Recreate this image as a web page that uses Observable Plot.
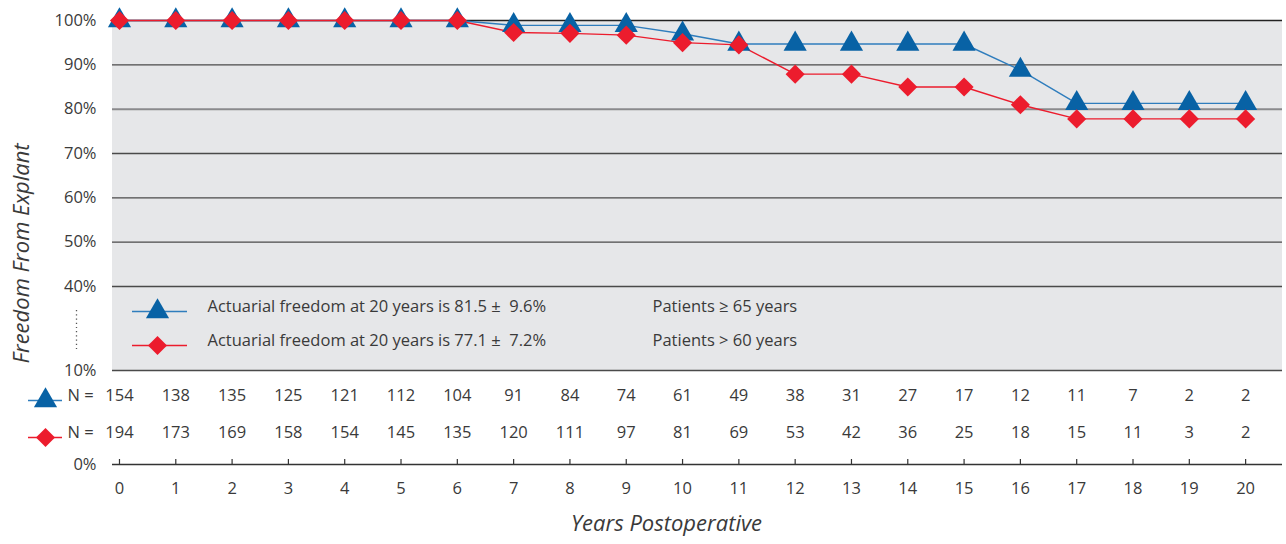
<!DOCTYPE html>
<html>
<head>
<meta charset="utf-8">
<script src="https://cdn.jsdelivr.net/npm/d3@7"></script>
<script src="https://cdn.jsdelivr.net/npm/@observablehq/plot@0.6"></script>
<style>
  html, body { margin: 0; padding: 0; background: #fff; }
  svg { font-family: "Open Sans", sans-serif; }
</style>
</head>
<body>
<div id="chart"></div>
<script>
const years = [0,1,2,3,4,5,6,7,8,9,10,11,12,13,14,15,16,17,18,19,20];
const freedom65 = [100,100,100,100,100,100,100,98.9,98.9,98.9,97.0,94.7,94.7,94.7,94.7,94.7,88.8,81.3,81.3,81.3,81.3];
const freedom60 = [100,100,100,100,100,100,100,97.3,97.1,96.7,95.0,94.5,87.9,87.9,85.0,85.0,81.0,77.8,77.8,77.8,77.8];
const n65 = [154,138,135,125,121,112,104,91,84,74,61,49,38,31,27,17,12,11,7,2,2];
const n60 = [194,173,169,158,154,145,135,120,111,97,81,69,53,42,36,25,18,15,11,3,2];
const yTicks = [0,10,40,50,60,70,80,90,100];
const gridValues = [90,70,60,50,40,10];
const legendText65 = "Actuarial freedom at 20 years is 81.5 \u00b1\u00a0 9.6%";
const legendText60 = "Actuarial freedom at 20 years is 77.1 \u00b1\u00a0 7.2%";
const group65 = "Patients \u2265 65 years";
const group60 = "Patients > 60 years";

const BLUE = "#0862a5", BLUE_LINE = "#2f7dbd", RED = "#ec1c2d";
const FONT = "'Open Sans', sans-serif";
const W = 1286, H = 544, mL = 112, mR = 4, mT = 20, mB = 80;
const FW = W - mL - mR;
const xDomain = [-0.124, 20.655];

const s65 = years.map((x, i) => ({x, y: freedom65[i], n: n65[i]}));
const s60 = years.map((x, i) => ({x, y: freedom60[i], n: n60[i]}));
const R = 8.6;
const TXT = "#3a3a3a";
const FS = 16.5;

const chart = Plot.plot({
  width: W, height: H,
  marginLeft: mL, marginRight: mR, marginTop: mT, marginBottom: mB,
  style: {fontFamily: FONT, color: TXT, background: "#fff"},
  x: {domain: xDomain, axis: null},
  y: {type: "linear", domain: [0, 10, 40, 100], range: [464, 370, 286, 20], axis: null},
  marks: [
    Plot.rect([0], {x1: xDomain[0], x2: xDomain[1], y1: 10, y2: 100, fill: "#e6e7e9"}),
    Plot.ruleY(gridValues, {stroke: "#4a4a4a", strokeWidth: 1.3}),
    Plot.ruleY([80], {stroke: "#8a8a8c", strokeWidth: 2}),
    Plot.ruleY([100], {stroke: "#222", strokeWidth: 1.3}),
    Plot.ruleY([0], {stroke: "#333", strokeWidth: 1.5}),
    Plot.tickX(years, {x: d => d, insetTop: (H - mT - mB) - 5, stroke: "#333", strokeWidth: 1.2}),
    Plot.axisY({ticks: yTicks, tickSize: 0, tickPadding: 16, tickFormat: d => d + "%", fontSize: FS, fill: TXT, label: null}),
    Plot.axisX({ticks: years, tickSize: 0, tickPadding: 18, fontSize: FS, fill: TXT, label: null}),
    Plot.ruleX([xDomain[0]], {x: d => d, y1: 31.4, y2: 16.4, dx: -36, stroke: "#555", strokeDasharray: "1.2,3", strokeWidth: 1.3}),
    // series
    Plot.line(s65, {x: "x", y: "y", stroke: BLUE_LINE, strokeWidth: 1.4}),
    Plot.line(s60, {x: "x", y: "y", stroke: RED, strokeWidth: 1.4}),
    Plot.dot(s65, {x: "x", y: "y", symbol: "triangle", r: R, fill: BLUE}),
    Plot.dot(s60, {x: "x", y: "y", symbol: "diamond2", r: R, fill: RED}),
    // inner legend
    Plot.tickY([0], {y: d => d, dy: -153, insetLeft: 20, insetRight: FW - 75, stroke: BLUE_LINE, strokeWidth: 1.4}),
    Plot.tickY([0], {y: d => d, dy: -119, insetLeft: 20, insetRight: FW - 75, stroke: RED, strokeWidth: 1.4}),
    Plot.dot([0], {frameAnchor: "bottom-left", dx: 45, dy: -153, symbol: "triangle", r: R, fill: BLUE}),
    Plot.dot([0], {frameAnchor: "bottom-left", dx: 45, dy: -119, symbol: "diamond2", r: R, fill: RED}),
    Plot.text([legendText65], {text: d => d, frameAnchor: "bottom-left", dx: 95, dy: -153, textAnchor: "start", fontSize: FS, fill: TXT}),
    Plot.text([legendText60], {text: d => d, frameAnchor: "bottom-left", dx: 95, dy: -119, textAnchor: "start", fontSize: FS, fill: TXT}),
    Plot.text([group65], {text: d => d, frameAnchor: "bottom-left", dx: 540, dy: -153, textAnchor: "start", fontSize: FS, fill: TXT}),
    Plot.text([group60], {text: d => d, frameAnchor: "bottom-left", dx: 540, dy: -119, textAnchor: "start", fontSize: FS, fill: TXT}),
    // N rows
    Plot.text(s65, {x: "x", text: "n", frameAnchor: "bottom", dy: -64, fontSize: FS, fill: TXT}),
    Plot.text(s60, {x: "x", text: "n", frameAnchor: "bottom", dy: -27, fontSize: FS, fill: TXT}),
    Plot.text(["N ="], {text: d => d, frameAnchor: "bottom-left", dx: -32, dy: -64, textAnchor: "middle", fontSize: FS, fill: TXT}),
    Plot.text(["N ="], {text: d => d, frameAnchor: "bottom-left", dx: -32, dy: -27, textAnchor: "middle", fontSize: FS, fill: TXT}),
    Plot.tickY([0], {y: d => d, dy: -64, insetLeft: -84, insetRight: FW + 50, stroke: BLUE_LINE, strokeWidth: 1.4}),
    Plot.tickY([0], {y: d => d, dy: -27, insetLeft: -84, insetRight: FW + 50, stroke: RED, strokeWidth: 1.4}),
    Plot.dot([0], {frameAnchor: "bottom-left", dx: -67, dy: -64, symbol: "triangle", r: R, fill: BLUE}),
    Plot.dot([0], {frameAnchor: "bottom-left", dx: -67, dy: -27, symbol: "diamond2", r: R, fill: RED}),
    // axis titles
    Plot.text(["Years Postoperative"], {text: d => d, frameAnchor: "bottom", dx: -31, dy: 66, fontSize: 22, fontStyle: "italic", fill: TXT}),
    Plot.text(["Freedom From Explant"], {text: d => d, frameAnchor: "left", textAnchor: "middle", dx: -91, dy: 11, rotate: -90, fontSize: 22, fontStyle: "italic", fill: TXT})
  ]
});
document.getElementById("chart").appendChild(chart);
</script>
</body>
</html>
